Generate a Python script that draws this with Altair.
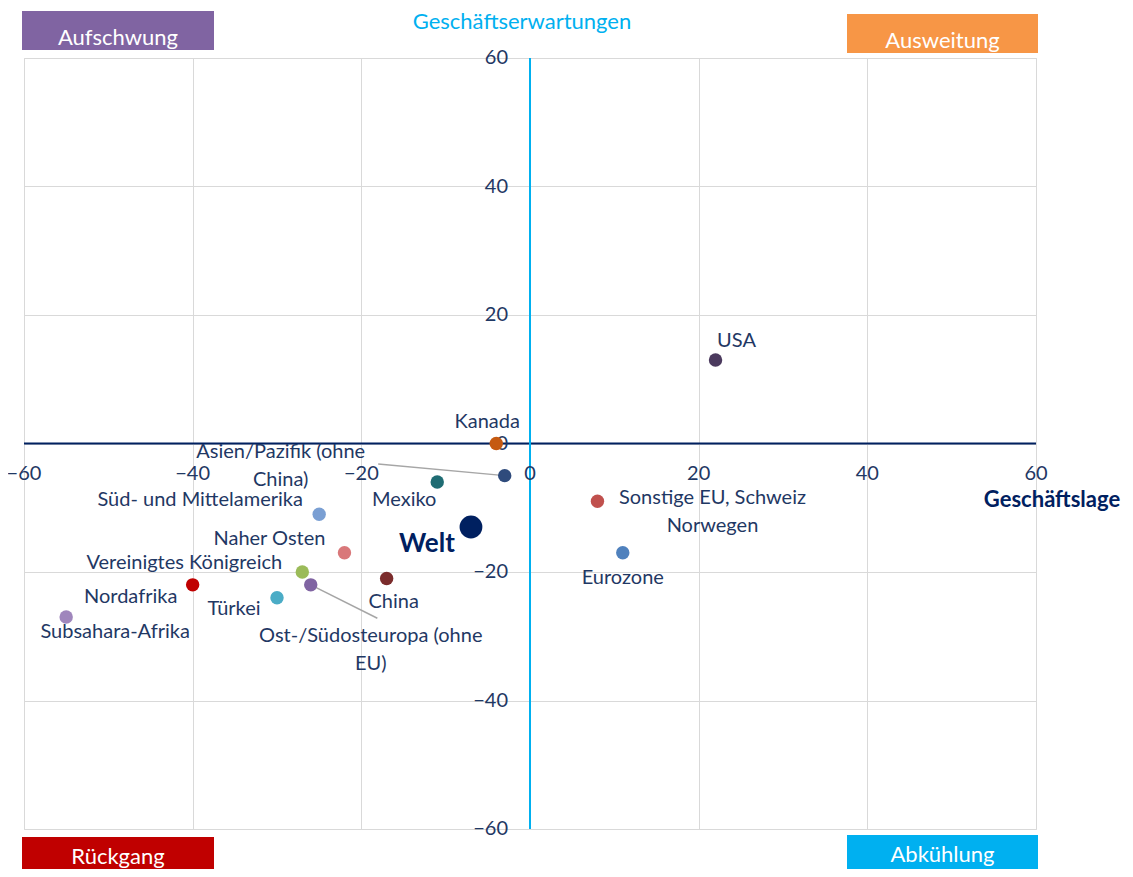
import altair as alt
import pandas as pd

# ---- data ----
names = ["USA", "Kanada", "Asien/Pazifik (ohne\nChina)", "Mexiko", "Welt",
         "Sonstige EU, Schweiz\nNorwegen", "Eurozone", "Süd- und Mittelamerika",
         "Naher Osten", "China", "Vereinigtes Königreich", "Ost-/Südosteuropa (ohne\nEU)",
         "Türkei", "Nordafrika", "Subsahara-Afrika"]
lage = [22, -4, -3, -11, -7, 8, 11, -25, -22, -17, -27, -26, -30, -40, -55]
erwartungen = [13, 0, -5, -6, -13, -9, -17, -11, -17, -21, -20, -22, -24, -22, -27]
colors = ["#4B3A5E", "#C55A11", "#2F4B7C", "#1F6C73", "#002060",
          "#C0504D", "#4F81BD", "#7A9FD3", "#D9787A", "#7B2C2C",
          "#9BBB59", "#8064A2", "#4BACC6", "#C00000", "#9F86BC"]
x_ticks = [-60, -40, -20, 0, 20, 40, 60]
y_ticks = [60, 40, 20, 0, -20, -40, -60]
quadrants = ["Aufschwung", "Ausweitung", "Rückgang", "Abkühlung"]
quadrant_colors = ["#8064A2", "#F79646", "#C00000", "#00B0F0"]

# ---- styling (label offsets in px, leader line ends in data units) ----
label_offsets = {
    "USA": (21, -19), "Kanada": (-9, -22), "Asien/Pazifik (ohne\nChina)": (-224, -24),
    "Mexiko": (-33, 18), "Welt": (-44, 17), "Sonstige EU, Schweiz\nNorwegen": (115, -3),
    "Eurozone": (0, 25), "Süd- und Mittelamerika": (-119, -14), "Naher Osten": (-75, -14),
    "China": (7, 24), "Vereinigtes Königreich": (-118, -9),
    "Ost-/Südosteuropa (ohne\nEU)": (60, 51), "Türkei": (-43, 11),
    "Nordafrika": (-62, 12), "Subsahara-Afrika": (49, 15),
}
leaders = {"Asien/Pazifik (ohne\nChina)": (-18.0, -3.2), "Ost-/Südosteuropa (ohne\nEU)": (-18.1, -27.2)}

FONT = "Lato"
NAVY = "#1F3864"
W, H = 1012, 771

df = pd.DataFrame({"name": names, "x": lage, "y": erwartungen, "color": colors})
df["size"] = [520 if n == "Welt" else 180 for n in names]

xs = alt.Scale(domain=[-60, 60], nice=False)
ys = alt.Scale(domain=[-60, 60], nice=False)
X = alt.X("x:Q", scale=xs, axis=alt.Axis(values=x_ticks, grid=True, gridColor="#d9d9d9",
                                           labels=False, ticks=False, domain=False, title=None))
Y = alt.Y("y:Q", scale=ys, axis=alt.Axis(values=y_ticks, grid=True, gridColor="#d9d9d9",
                                           labels=False, ticks=False, domain=False, title=None))

base = alt.Chart(df)

grid = base.mark_point(opacity=0).encode(x=X, y=Y)

# axis lines
xt = pd.DataFrame({"v": x_ticks})
yt = pd.DataFrame({"v": y_ticks})
hline = alt.Chart(pd.DataFrame({"v": [0]})).mark_rule(color="#002060", strokeWidth=2).encode(
    y=alt.Y("v:Q", scale=ys))
vline = alt.Chart(pd.DataFrame({"v": [0]})).mark_rule(color="#00B0F0", strokeWidth=2).encode(
    x=alt.X("v:Q", scale=xs))

xlab = alt.Chart(xt).transform_calculate(z="0").mark_text(
    font=FONT, fontSize=20, color=NAVY, dy=30, align="center", baseline="middle").encode(
    x=alt.X("v:Q", scale=xs), y=alt.Y("z:Q", scale=ys), text=alt.Text("v:Q"))
ylab = alt.Chart(yt).transform_calculate(z="0").mark_text(
    font=FONT, fontSize=20, color=NAVY, dx=-22, align="right", baseline="middle").encode(
    y=alt.Y("v:Q", scale=ys), x=alt.X("z:Q", scale=xs), text=alt.Text("v:Q"))

# leader lines
ldf = pd.DataFrame([{"name": n, "x": df.loc[df.name == n, "x"].iloc[0],
                     "y": df.loc[df.name == n, "y"].iloc[0], "x2": e[0], "y2": e[1]}
                    for n, e in leaders.items()])
lead = alt.Chart(ldf).mark_rule(color="#A6A6A6", strokeWidth=1.5).encode(
    x=alt.X("x:Q", scale=xs), y=alt.Y("y:Q", scale=ys), x2="x2:Q", y2="y2:Q")

points = base.mark_circle(opacity=1).encode(
    x=alt.X("x:Q", scale=xs), y=alt.Y("y:Q", scale=ys),
    color=alt.Color("color:N", scale=None), size=alt.Size("size:Q", scale=None))

labels = []
for n in names:
    dx, dy = label_offsets[n]
    bold = n == "Welt"
    labels.append(
        base.transform_filter(alt.datum.name == n).mark_text(
            font=FONT, fontSize=26 if bold else 20, fontWeight="bold" if bold else "normal",
            color="#002060" if bold else NAVY, dx=dx, dy=dy, align="center",
            baseline="middle", lineBreak="\n", lineHeight=28).encode(
            x=alt.X("x:Q", scale=xs), y=alt.Y("y:Q", scale=ys), text="name:N"))

# quadrant boxes (px relative to plot origin)
qdf = pd.DataFrame({"q": quadrants, "c": quadrant_colors})
box_pos = {"Aufschwung": (-2, 190, -47, -8), "Ausweitung": (823, 1014, -44, -5),
           "Rückgang": (-2, 190, 779, 811), "Abkühlung": (823, 1014, 777, 811)}
text_y = {"Aufschwung": -20, "Ausweitung": -17, "Rückgang": 799, "Abkühlung": 797}
boxes = []
for q, c in zip(quadrants, quadrant_colors):
    x1, x2, y1, y2 = box_pos[q]
    boxes.append(alt.Chart(qdf).transform_filter(alt.datum.q == q).mark_rect(color=c, clip=False).encode(
        x=alt.value(x1), x2=alt.value(x2), y=alt.value(y1), y2=alt.value(y2)))
    boxes.append(alt.Chart(qdf).transform_filter(alt.datum.q == q).mark_text(
        font=FONT, fontSize=22, color="white", align="center", baseline="middle", clip=False).encode(
        x=alt.value((x1 + x2) / 2), y=alt.value(text_y[q]), text="q:N"))

titles = [
    alt.Chart(pd.DataFrame({"t": ["Geschäftserwartungen"]})).mark_text(
        font=FONT, fontSize=22, color="#00B0F0", align="center", baseline="middle").encode(
        x=alt.value(498), y=alt.value(-36), text="t:N"),
    alt.Chart(pd.DataFrame({"t": ["Geschäftslage"]})).mark_text(
        font=FONT, fontSize=22, fontWeight="bold", color="#002060", align="center", baseline="middle").encode(
        x=alt.value(1028), y=alt.value(442), text="t:N"),
]

chart = alt.layer(grid, hline, vline, xlab, ylab, lead, points, *labels, *boxes, *titles).properties(
    width=W, height=H,
    autosize=alt.AutoSizeParams(type="none"),
    padding={"left": 16, "top": 50, "right": 89, "bottom": 40},
).configure_view(stroke="#d9d9d9", strokeWidth=1).configure(background="white")

chart.save("out.html", embed_options={"renderer": "svg", "actions": False})
